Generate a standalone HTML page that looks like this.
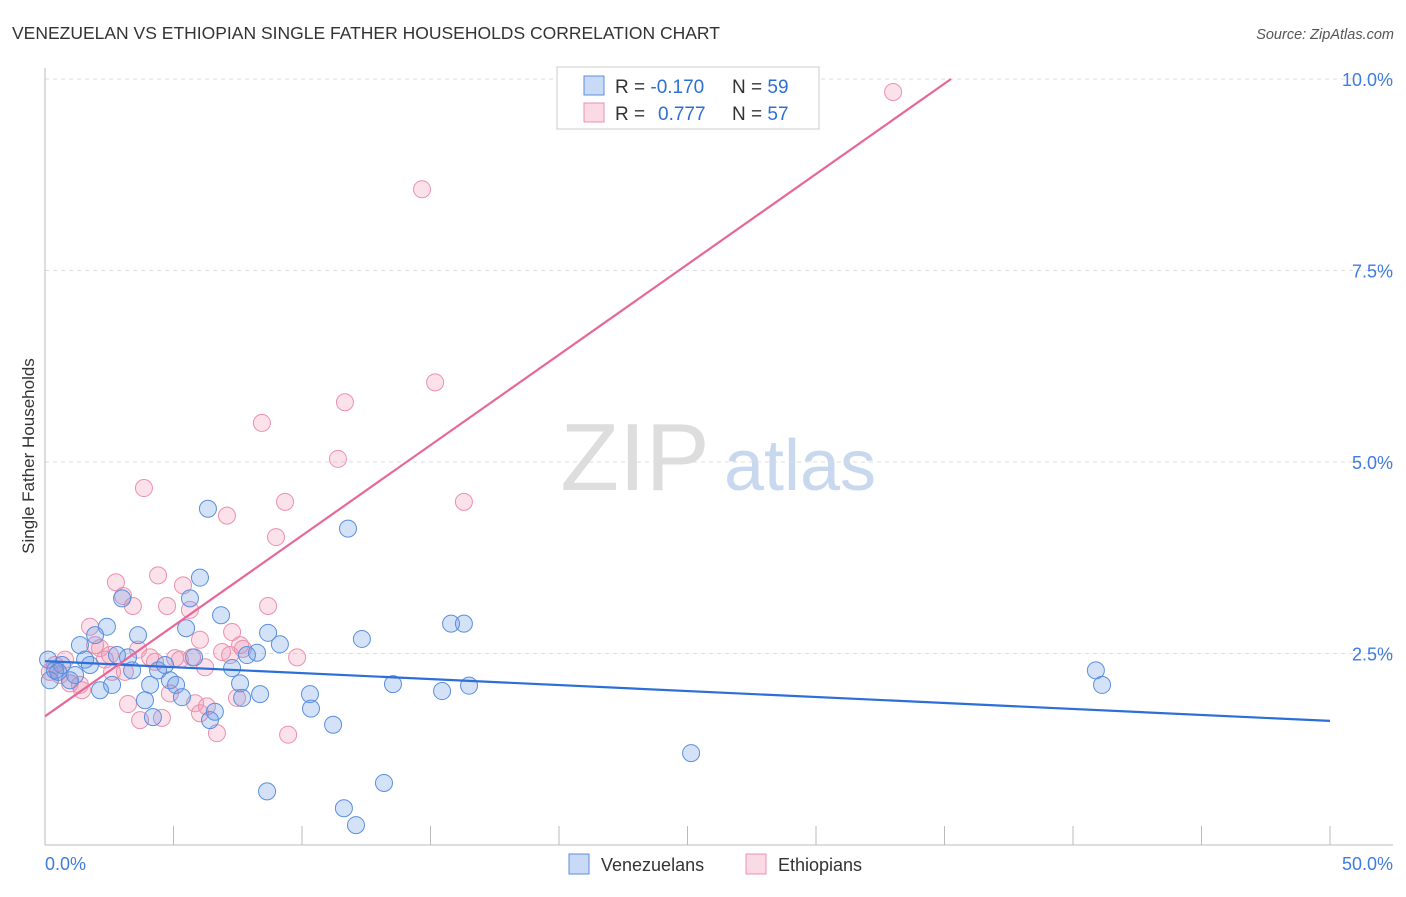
<!DOCTYPE html>
<html><head><meta charset="utf-8"><style>
body{margin:0;background:#fff;font-family:"Liberation Sans",sans-serif;}
svg text{font-family:"Liberation Sans",sans-serif;}
</style></head><body>
<svg id="chart" width="1406" height="892" viewBox="0 0 1406 892" xmlns="http://www.w3.org/2000/svg">
<text x="12" y="39" font-size="17.5" fill="#333">VENEZUELAN VS ETHIOPIAN SINGLE FATHER HOUSEHOLDS CORRELATION CHART</text>
<text x="1394" y="39" font-size="14.5" fill="#555" font-style="italic" text-anchor="end">Source: ZipAtlas.com</text>
<g>
<text x="635" y="490" font-size="96" fill="#ddd" font-family="Liberation Serif" text-anchor="middle">ZIP</text>
<text x="800" y="490" font-size="72" fill="#c8d8ef" text-anchor="middle">atlas</text>
</g>
<g id="grid"></g>
<g id="axes"></g>
<g id="marks"></g>
<text transform="translate(34,456) rotate(-90)" font-size="17" fill="#333" text-anchor="middle">Single Father Households</text>
<g>
<rect x="557" y="67" width="262" height="62" fill="#fff" stroke="#ccc"/>
<rect x="584" y="76" width="20" height="19" fill="rgba(100,150,230,0.35)" stroke="#5b8fdf"/>
<rect x="584" y="103" width="20" height="19" fill="rgba(240,150,180,0.35)" stroke="#ec90ad"/>
<text x="615" y="93" font-size="19" fill="#333">R = <tspan fill="#2d6fd6">-0.170</tspan><tspan x="732">N = </tspan><tspan fill="#2d6fd6">59</tspan></text>
<text x="615" y="120" font-size="19" fill="#333">R = <tspan x="658" fill="#2d6fd6">0.777</tspan><tspan x="732">N = </tspan><tspan fill="#2d6fd6">57</tspan></text>
</g>
<g>
<rect x="569" y="854" width="20" height="20" fill="rgba(100,150,230,0.35)" stroke="#5b8fdf"/>
<text x="601" y="871" font-size="18" fill="#333">Venezuelans</text>
<rect x="746" y="854" width="20" height="20" fill="rgba(240,150,180,0.35)" stroke="#ec90ad"/>
<text x="778" y="871" font-size="18" fill="#333">Ethiopians</text>
</g>
</svg>
<script>
const venX=[0.19,0.39,0.66,0.97,1.36,1.56,1.95,2.14,2.41,2.61,2.80,3.00,3.23,3.39,3.62,3.89,4.09,4.20,4.40,4.67,4.86,5.10,5.33,5.49,5.64,5.80,6.03,6.34,6.42,6.61,6.85,7.28,7.59,7.67,7.86,8.25,8.37,8.64,8.68,9.14,10.31,10.35,11.21,11.79,11.63,12.10,12.33,13.19,13.54,15.45,15.80,16.30,16.50,25.14,40.89,41.13,0.51,1.17,1.75,0.12];
const venY=[2.15,2.28,2.35,2.15,2.61,2.42,2.74,2.02,2.85,2.09,2.48,3.22,2.45,2.28,2.74,1.89,2.09,1.67,2.28,2.35,2.15,2.09,1.93,2.83,3.22,2.45,3.49,4.39,1.63,1.74,3.00,2.31,2.11,1.92,2.48,2.51,1.97,0.70,2.77,2.62,1.97,1.78,1.57,4.13,0.48,0.26,2.69,0.81,2.10,2.01,2.89,2.89,2.08,1.20,2.28,2.09,2.26,2.22,2.35,2.42];
const ethX=[33.0,14.67,15.18,11.67,8.44,11.40,3.85,16.30,9.34,7.08,8.99,2.76,4.40,5.37,5.64,3.04,3.42,4.75,8.68,1.75,7.28,7.70,9.81,2.14,3.62,4.09,5.25,5.72,6.23,6.89,2.61,3.11,1.36,0.97,0.58,0.19,3.23,3.70,4.55,4.86,5.84,6.03,6.30,6.69,7.47,9.46,1.44,2.33,4.28,5.06,0.39,0.78,2.53,6.03,7.20,7.59,1.95];
const ethY=[9.83,8.56,6.04,5.78,5.51,5.04,4.66,4.48,4.48,4.30,4.02,3.43,3.52,3.39,3.07,3.25,3.12,3.12,3.12,2.85,2.78,2.56,2.45,2.57,2.55,2.45,2.42,2.45,2.32,2.52,2.26,2.26,2.09,2.11,2.22,2.26,1.84,1.63,1.66,1.98,1.85,1.72,1.81,1.46,1.92,1.44,2.02,2.42,2.39,2.44,2.35,2.42,2.48,2.68,2.48,2.61,2.61];
const yTicks=[2.5,5.0,7.5,10.0];
const yTickLabels=["2.5%","5.0%","7.5%","10.0%"];
const venTrend=[2.40,-0.0156];
const ethTrend=[1.68,0.236];
const NS="http://www.w3.org/2000/svg";
const X0=45,X1=1330,Y0=845,Y10=79;
const sx=v=>X0+(v/50)*(X1-X0);
const sy=v=>Y0-(v/10)*(Y0-Y10);
function mk(parent,tag,attrs){const e=document.createElementNS(NS,tag);for(const k in attrs)e.setAttribute(k,attrs[k]);document.getElementById(parent).appendChild(e);return e;}
yTicks.forEach((t,i)=>{
 const g=mk('grid','line',{x1:X0,x2:1393,y1:sy(t),y2:sy(t),stroke:'#ddd','stroke-dasharray':'4,4'});
 
 
 const l=mk('axes','text',{x:1393,y:sy(t)+7,'font-size':18,fill:'#3f7be0','text-anchor':'end'});
 l.textContent=yTickLabels[i];
 
 
});
const ax=mk('axes','line',{x1:X0,x2:1393,y1:Y0,y2:Y0,stroke:'#bbb'});


const ay=mk('axes','line',{x1:X0,x2:X0,y1:68,y2:Y0,stroke:'#bbb'});


for(let k=1;k<=10;k++){
 const t=mk('axes','line',{x1:sx(k*5),x2:sx(k*5),y1:826,y2:Y0,stroke:'#bbb'});
 
 
}
const xl0=mk('axes','text',{x:45,y:870,'font-size':18,fill:'#3f7be0'});xl0.textContent='0.0%';


const xl1=mk('axes','text',{x:1393,y:870,'font-size':18,fill:'#3f7be0','text-anchor':'end'});xl1.textContent='50.0%';


ethX.forEach((x,i)=>{
 const c=mk('marks','circle',{cx:sx(x),cy:sy(ethY[i]),r:8.5,fill:'rgba(240,150,180,0.28)',stroke:'#ec90ad','stroke-width':1});
 
 
});
venX.forEach((x,i)=>{
 const c=mk('marks','circle',{cx:sx(x),cy:sy(venY[i]),r:8.5,fill:'rgba(100,150,230,0.28)',stroke:'#5b8fdf','stroke-width':1});
 
 
});
const bl=mk('marks','line',{x1:sx(0),y1:sy(venTrend[0]),x2:sx(50),y2:sy(venTrend[0]+venTrend[1]*50),stroke:'#2c6fd8','stroke-width':2.2});


const xe=(10-ethTrend[0])/ethTrend[1];
const pl=mk('marks','line',{x1:sx(0),y1:sy(ethTrend[0]),x2:sx(xe),y2:sy(10),stroke:'#e8679a','stroke-width':2.2});


</script>
</body></html>
